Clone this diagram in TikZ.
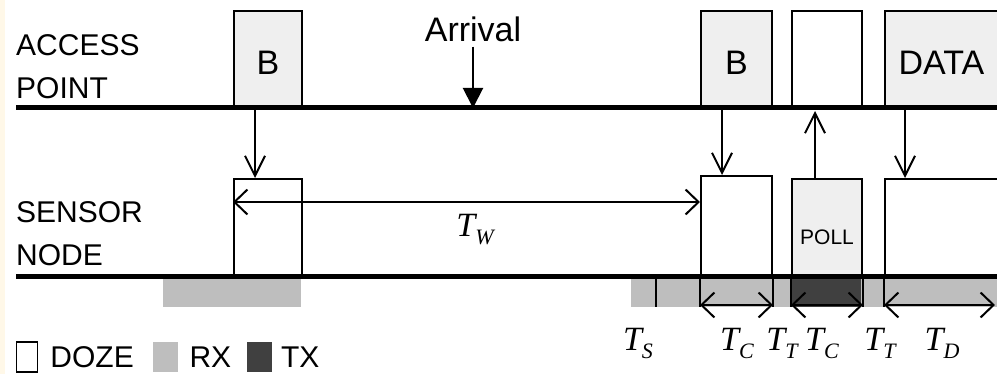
\documentclass[tikz,border=0pt]{standalone}
\usepackage{fontspec}
\setmainfont{Liberation Sans}
\newfontfamily\serifit{Liberation Serif}[ItalicFont=* Italic]
\newcommand\tsym[1]{{\serifit\itshape T\raisebox{-8pt}{\fontsize{22}{24}\selectfont #1}}}
\usepackage{xcolor}
\definecolor{wkCream}{RGB}{255,248,232}
\definecolor{wkPale}{RGB}{239,239,239}
\definecolor{wkRx}{RGB}{190,190,190}
\definecolor{wkTx}{RGB}{64,64,64}
\usetikzlibrary{positioning,arrows.meta,calc}

\begin{document}
\begin{tikzpicture}[
  x=1pt,y=-1pt,
  rowlbl/.style={anchor=west,align=left,inner sep=0,font=\fontsize{30}{43}\selectfont},
  timeline/.style={line width=5pt},
  apbox/.style={draw,line width=2pt,fill=wkPale,anchor=south west,inner sep=0,
    text height=32pt,text depth=0pt,font=\fontsize{34}{40}\selectfont},
  snbox/.style={draw,line width=2pt,fill=white,anchor=south west,inner sep=0},
  sig/.style={line width=2pt,-{Straight Barb[length=20pt,width=20pt]}},
  arrive/.style={line width=2pt,-{Triangle[length=20pt,width=20pt]}},
  dim/.style={line width=2pt,{Straight Barb[length=13pt,width=25pt]}-{Straight Barb[length=13pt,width=25pt]}},
  tick/.style={line width=2pt},
  tlbl/.style={inner sep=0,font=\fontsize{34}{40}\selectfont},
  legsq/.style={inner sep=0,minimum width=25pt,minimum height=30pt},
  legtxt/.style={inner sep=0,font=\fontsize{30}{36}\selectfont}]

  \path[use as bounding box] (0,0) rectangle (997,374);
  \clip (0,0) rectangle (997,374);
  \fill[wkCream] (0,0) rectangle (5,374);

  % radio activity of the node
  \fill[wkRx] (163,277) rectangle (301,307);
  \fill[wkRx] (631,277) rectangle (1000,307);
  \fill[wkTx] (791,277) rectangle (861,307);
  \draw[tick] (656,277) -- (656,307);

  \node[rowlbl] (apName) at (16,67) {ACCESS\\POINT};
  \node[rowlbl] (snName) at (16,234) {SENSOR\\NODE};

  % access point frames
  \node[apbox,minimum width=68,minimum height=96] (apB1) at (233,108) {B};
  \node[apbox,minimum width=71,minimum height=96] (apB2) at (700,108) {B};
  \node[apbox,fill=white,minimum width=70,minimum height=96] (apE) at (791,108) {};
  \node[apbox,minimum width=113,minimum height=96] (apD) at (884,108) {DATA};

  % sensor node frames
  \node[snbox,minimum width=68,minimum height=97] (snB1) at (233,277) {};
  \node[snbox,minimum width=71,minimum height=100] (snB2) at (700,277) {};
  \node[snbox,fill=wkPale,minimum width=70,minimum height=97,font=\fontsize{21}{24}\selectfont] (snPoll) at (791,277) {\raisebox{-17pt}[0pt][0pt]{POLL}};
  \node[snbox,minimum width=130,minimum height=97] (snD) at (884,277) {};

  \coordinate (apL0) at (16,108);
  \coordinate (apL1) at (1000,108);
  \coordinate (snL0) at (16,277);
  \coordinate (snL1) at (1000,277);
  \draw[timeline] (apL0) -- (apL1);
  \draw[timeline] (snL0) -- (snL1);

  \node[tlbl] (arrival) at (473,29) {Arrival};
  \draw[arrive] ($(arrival.south)+(0,5)$) -- (arrival.south |- apL0);

  \draw[sig] ($(apB1.south west)+(22,0)$) -- ($(snB1.north west)+(22,0)$);
  \draw[sig] ($(apB2.south west)+(22,0)$) -- ($(snB2.north west)+(22,0)$);
  \draw[sig] ($(snPoll.north west)+(24,0)$) -- ($(apE.south west)+(24,3)$);
  \draw[sig] ($(apD.south west)+(21,0)$) -- ($(snD.north west)+(21,0)$);

  % timing
  \coordinate (twLine) at (0,202);
  \draw[dim] (snB1.west |- twLine) -- (snB2.west |- twLine);
  \node[tlbl] (tw) at (475,230) {\tsym{W}};

  \foreach \n/\a in {snB2/south west,snB2/south east,snPoll/south west,snPoll/south east,snD/south west}
    \draw[tick] (\n.\a) -- ++(0,30);
  \draw[dim] ($(snB2.south west)+(0,28)$) -- ($(snB2.south east)+(0,28)$);
  \draw[dim] ($(snPoll.south west)+(0,28)$) -- ($(snPoll.south east)+(0,28)$);
  \coordinate (tdEnd) at (995,305);
  \draw[dim] ($(snD.south west)+(0,28)$) -- (tdEnd);

  \foreach \x/\s [count=\i] in {638/S,737/C,782/T,822/C,880/T,942/D}
    \node[tlbl] (tl\i) at (\x,343) {\tsym{\s}};

  % legend
  \node[legsq,draw,line width=1.5pt,minimum width=21pt] (kDoze) at (27,357) {};
  \node[legtxt,right=12pt of kDoze] (kDozeT) {DOZE};
  \node[legsq,fill=wkRx,right=19pt of kDozeT] (kRx) {};
  \node[legtxt,right=11pt of kRx] (kRxT) {RX};
  \node[legsq,fill=wkTx,right=15pt of kRxT] (kTx) {};
  \node[legtxt,right=9pt of kTx] (kTxT) {TX};
\end{tikzpicture}
\end{document}
